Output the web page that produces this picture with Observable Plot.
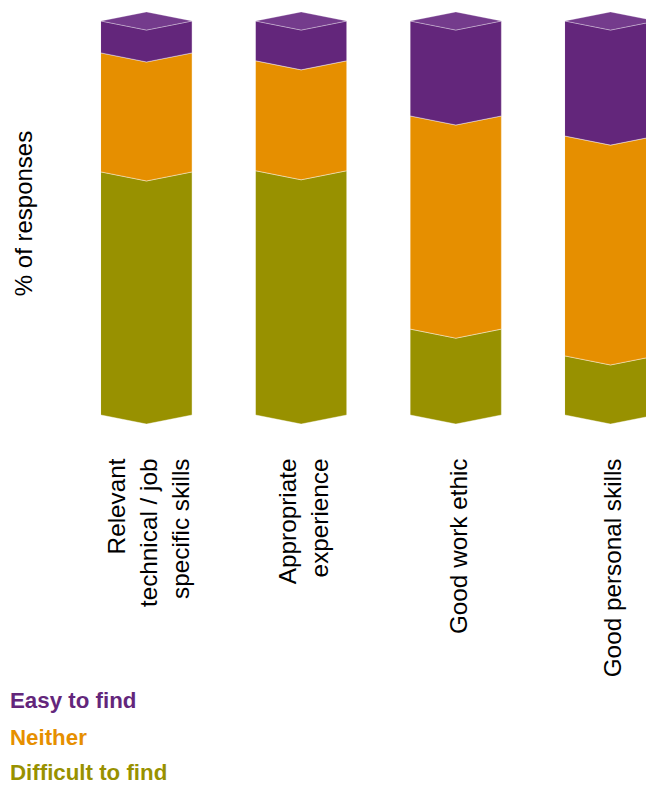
<!DOCTYPE html>
<html>
<head>
<meta charset="utf-8">
<script src="https://cdn.jsdelivr.net/npm/d3@7"></script>
<script src="https://cdn.jsdelivr.net/npm/@observablehq/plot@0.6"></script>
<style>
  html, body { margin: 0; padding: 0; background: #fff; overflow: hidden; width: 646px; }
  #chart svg { display: block; }
  #legend { font-family: "Liberation Sans", Arial, sans-serif; font-weight: bold; font-size: 22.3px; margin-left: 10px; margin-top: 3px; }
  #legend div { height: 36.5px; line-height: 26px; box-sizing: border-box; }
  #legend div:last-child { height: 24px; line-height: 24px; padding-top: 0; }
</style>
</head>
<body>
<div id="chart"></div>
<div id="legend"></div>
<script>
const categories = ["Relevant\ntechnical / job\nspecific skills", "Appropriate\nexperience", "Good work ethic", "Good personal skills"];
const seriesNames = ["Difficult to find", "Neither", "Easy to find"];
const difficult = [61.7, 62.0, 21.8, 15.0];
const neither = [30.2, 27.9, 54.1, 55.8];
const easy = [8.1, 10.1, 24.1, 29.2];
const colors = ["#989100", "#e68f00", "#63267b"];
const capColor = "#743b8c";
const yLabel = "% of responses";

const values = [difficult, neither, easy];
const hw = 0.2945;   // half bar width, in index units
const d = 2.3;       // chevron depth, in % units

const segs = [];
categories.forEach((c, i) => {
  let lo = 0;
  values.forEach((arr, s) => {
    const hi = lo + arr[i];
    const key = seriesNames[s] + "|" + i;
    segs.push({x: i - hw, y1: lo, y2: hi, z: key, series: seriesNames[s]});
    segs.push({x: i, y1: lo - d, y2: hi - d, z: key, series: seriesNames[s]});
    segs.push({x: i + hw, y1: lo, y2: hi, z: key, series: seriesNames[s]});
    lo = hi;
  });
});
const caps = [];
categories.forEach((c, i) => {
  caps.push({x: i - hw, y1: 100, y2: 100, z: i});
  caps.push({x: i, y1: 100 - d, y2: 100 + d, z: i});
  caps.push({x: i + hw, y1: 100, y2: 100, z: i});
});
const labels = categories.map((c, i) => ({x: i, label: c}));

const chart = Plot.plot({
  width: 646,
  height: 685,
  marginTop: 21,
  marginBottom: 270,
  marginLeft: 0,
  marginRight: 0,
  style: {fontFamily: "'Liberation Sans', Arial, sans-serif", background: "white"},
  x: {domain: [0, 3], range: [146.5, 610.5], axis: null},
  y: {domain: [0, 100], axis: null},
  color: {domain: seriesNames, range: colors},
  marks: [
    Plot.areaY(segs, {x: "x", y1: "y1", y2: "y2", z: "z", fill: "series", stroke: "white", strokeWidth: 0.6, strokeOpacity: 0.7}),
    Plot.areaY(caps, {x: "x", y1: "y1", y2: "y2", z: "z", fill: capColor, stroke: "white", strokeWidth: 0.5, strokeOpacity: 0.5}),
    Plot.text(labels, {x: "x", text: "label", frameAnchor: "bottom", dy: 43, rotate: -90, textAnchor: "end", lineAnchor: "middle", lineHeight: 1.31, fontSize: 24.3, fill: "black"}),
    Plot.text([yLabel], {frameAnchor: "left", text: d => d, dx: 24, dy: -5, rotate: -90, textAnchor: "middle", lineAnchor: "middle", fontSize: 24, fill: "black"})
  ]
});
document.getElementById("chart").appendChild(chart);

const legend = document.getElementById("legend");
[2, 1, 0].forEach(s => {
  const el = document.createElement("div");
  el.textContent = seriesNames[s];
  el.style.color = colors[s];
  legend.appendChild(el);
});
</script>
</body>
</html>
